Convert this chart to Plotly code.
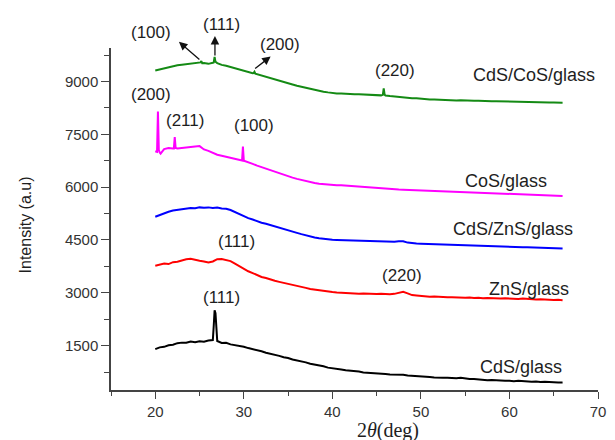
import plotly.graph_objects as go

# ---- data ----
GRID = [20.0, 20.5, 21.0, 21.5, 22.0, 22.5, 23.0, 23.5, 24.0, 24.5, 25.0, 25.5, 26.0, 26.5,
        27.0, 27.5, 28.0, 28.5, 29.0, 29.5, 30.0, 30.5, 31.0, 31.5, 32.0, 32.5, 33.0, 33.5,
        34.0, 34.5, 35.0, 35.5, 36.0, 36.5, 37.0, 37.5, 38.0, 38.5, 39.0, 39.5, 40.0, 40.5,
        41.0, 41.5, 42.0, 42.5, 43.0, 43.5, 44.0, 44.5, 45.0, 45.5, 46.0, 46.5, 47.0, 47.5,
        48.0, 48.5, 49.0, 49.5, 50.0, 50.5, 51.0, 51.5, 52.0, 52.5, 53.0, 53.5, 54.0, 54.5,
        55.0, 55.5, 56.0, 56.5, 57.0, 57.5, 58.0, 58.5, 59.0, 59.5, 60.0, 60.5, 61.0, 61.5,
        62.0, 62.5, 63.0, 63.5, 64.0, 64.5, 65.0, 65.5, 66.0]

CDS_GLASS = [1400, 1450, 1465, 1510, 1525, 1570, 1585, 1580, 1615, 1595, 1625, 1610, 1645, 1660,
             1630, 1575, 1580, 1535, 1515, 1480, 1465, 1430, 1405, 1370, 1340, 1300, 1275, 1235,
             1210, 1170, 1150, 1105, 1085, 1045, 1025, 985, 965, 930, 915, 875, 865, 835,
             825, 800, 795, 770, 765, 740, 735, 715, 715, 700, 695, 680, 685, 690,
             675, 650, 645, 625, 625, 610, 610, 595, 600, 585, 585, 570, 575, 585,
             565, 550, 550, 535, 535, 520, 525, 510, 515, 500, 505, 490, 500, 485,
             490, 475, 480, 465, 475, 460, 465, 450, 455]
CDS_GLASS_PEAK_X = [26.6, 26.7, 26.8, 26.9]
CDS_GLASS_PEAK_Y = [2050, 2500, 2420, 1850]

ZNS_GLASS = [3770, 3800, 3830, 3815, 3870, 3880, 3920, 3950, 3965, 3930, 3910, 3890, 3860, 3890,
             3955, 3960, 3935, 3900, 3830, 3750, 3670, 3610, 3560, 3500, 3450, 3420, 3375, 3340,
             3310, 3285, 3255, 3225, 3200, 3165, 3140, 3110, 3090, 3065, 3050, 3030, 3020, 3010,
             3000, 2995, 2985, 2990, 2975, 2980, 2970, 2975, 2965, 2970, 2955, 2960, 2970, 2995,
             3030, 2985, 2935, 2925, 2910, 2905, 2890, 2895, 2880, 2885, 2870, 2875, 2865, 2870,
             2860, 2865, 2850, 2860, 2845, 2855, 2845, 2850, 2835, 2845, 2835, 2840, 2825, 2835,
             2820, 2825, 2810, 2820, 2805, 2810, 2795, 2805, 2790]

CDS_ZNS_GLASS = [5160, 5210, 5250, 5300, 5335, 5350, 5380, 5390, 5410, 5400, 5425, 5415, 5425, 5410,
                 5420, 5395, 5385, 5350, 5290, 5230, 5170, 5120, 5080, 5030, 4990, 4960, 4920, 4885,
                 4850, 4815, 4780, 4740, 4700, 4665, 4630, 4600, 4570, 4550, 4530, 4520, 4505, 4500,
                 4495, 4490, 4485, 4480, 4470, 4475, 4460, 4465, 4455, 4460, 4450, 4455, 4450, 4460,
                 4465, 4425, 4405, 4400, 4395, 4390, 4385, 4385, 4380, 4375, 4370, 4375, 4365, 4360,
                 4360, 4350, 4350, 4345, 4340, 4335, 4330, 4325, 4320, 4315, 4310, 4305, 4300, 4295,
                 4295, 4290, 4285, 4280, 4280, 4275, 4270, 4265, 4260]

COS_GLASS = [7020, 6980, 7080, 7110, 7100, 7095, 7115, 7130, 7140, 7155, 7165, 7070, 7030, 6975,
             6920, 6890, 6860, 6835, 6800, 6770, 6745, 6710, 6660, 6610, 6565, 6520, 6480, 6430,
             6390, 6350, 6310, 6270, 6235, 6200, 6165, 6140, 6115, 6095, 6080, 6075, 6065, 6055,
             6050, 6040, 6030, 6020, 6005, 5995, 5985, 5975, 5965, 5955, 5950, 5940, 5940, 5930,
             5925, 5920, 5915, 5905, 5905, 5895, 5895, 5885, 5885, 5875, 5875, 5870, 5870, 5860,
             5865, 5855, 5860, 5850, 5845, 5835, 5835, 5825, 5820, 5810, 5810, 5800, 5800, 5790,
             5790, 5780, 5780, 5770, 5770, 5760, 5760, 5750, 5750]
COS_GLASS_PEAK_X = [20.2, 20.3, 20.4, 20.6, 22.1, 22.2, 22.3, 29.8, 29.9, 30.1]
COS_GLASS_PEAK_Y = [7000, 8150, 7050, 6950, 7100, 7420, 7110, 6755, 7150, 6740]

CDS_COS_GLASS = [9310, 9340, 9370, 9420, 9430, 9460, 9475, 9490, 9500, 9505, 9530, 9525, 9500, 9530,
                 9520, 9470, 9445, 9410, 9370, 9325, 9285, 9250, 9235, 9205, 9165, 9125, 9085, 9045,
                 9010, 8980, 8950, 8915, 8880, 8850, 8815, 8790, 8765, 8735, 8710, 8690, 8670, 8660,
                 8655, 8645, 8645, 8635, 8640, 8630, 8625, 8615, 8610, 8605, 8600, 8585, 8570, 8560,
                 8545, 8540, 8525, 8520, 8505, 8500, 8490, 8490, 8480, 8475, 8470, 8470, 8460, 8465,
                 8455, 8460, 8450, 8455, 8445, 8445, 8440, 8440, 8435, 8430, 8430, 8425, 8420, 8420,
                 8415, 8410, 8410, 8405, 8405, 8400, 8400, 8395, 8395]
CDS_COS_GLASS_PEAK_X = [25.1, 25.2, 25.3, 26.6, 26.7, 26.8, 31.1, 31.2, 31.3, 45.7, 45.8, 45.9]
CDS_COS_GLASS_PEAK_Y = [9540, 9580, 9520, 9540, 9700, 9560, 9240, 9275, 9220, 8620, 8800, 8625]

SERIES_NAMES = ["CdS/glass", "ZnS/glass", "CdS/ZnS/glass", "CoS/glass", "CdS/CoS/glass"]
# peak labels inside the plot (data coordinates)
HKL_LABELS = ["(220)", "(200)", "(211)", "(100)", "(111)", "(220)", "(111)"]
HKL_X = [47.1, 19.56, 23.33, 31.1, 29.2, 47.9, 27.44]
HKL_Y = [9304, 8622, 7898, 7756, 4460, 3494, 2855]
# peak labels above the plot (x in data, y as fraction of plot height)
TOP_LABELS = ["(100)", "(111)", "(200)"]
TOP_X = [19.56, 27.44, 34.1]
TOP_Y = [1.044, 1.069, 1.010]
# arrows: head position (x data, y fraction) and tail offset in pixels
ARROW_HEAD_X = [22.67, 26.74, 33.03]
ARROW_HEAD_Y = [1.018, 1.035, 0.975]
ARROW_TAIL_DX = [22, 0, -17]
ARROW_TAIL_DY = [19, 21, 13]
NAME_X = [61.3, 62.2, 60.4, 59.6, 62.8]
NAME_Y = [880, 3102, 4801, 6165, 9176]
X_TICKS = [20, 30, 40, 50, 60, 70]
Y_TICKS = [1500, 3000, 4500, 6000, 7500, 9000]


def merged(xs, ys, px=None, py=None):
    pts = list(zip(xs, ys))
    if px:
        pts += list(zip(px, py))
    pts.sort(key=lambda p: p[0])
    return [p[0] for p in pts], [p[1] for p in pts]


series = [
    (SERIES_NAMES[0], merged(GRID, CDS_GLASS, CDS_GLASS_PEAK_X, CDS_GLASS_PEAK_Y), "#000000"),
    (SERIES_NAMES[1], merged(GRID, ZNS_GLASS), "#ff0000"),
    (SERIES_NAMES[2], merged(GRID, CDS_ZNS_GLASS), "#0000ff"),
    (SERIES_NAMES[3], merged(GRID, COS_GLASS, COS_GLASS_PEAK_X, COS_GLASS_PEAK_Y), "#ff00ff"),
    (SERIES_NAMES[4], merged(GRID, CDS_COS_GLASS, CDS_COS_GLASS_PEAK_X, CDS_COS_GLASS_PEAK_Y), "#148a14"),
]

fig = go.Figure()
for name, (xs, ys), color in series:
    fig.add_trace(go.Scatter(x=xs, y=ys, mode="lines", name=name,
                             line=dict(color=color, width=2), showlegend=False))

FONT = "Liberation Sans, Arial, sans-serif"
TXT = "#1e1e1e"
ann = []
for t, x, y in zip(HKL_LABELS, HKL_X, HKL_Y):
    ann.append(dict(x=x, y=y, xref="x", yref="y", text=t, showarrow=False,
                    font=dict(family=FONT, size=17, color=TXT)))
for t, x, y in zip(TOP_LABELS, TOP_X, TOP_Y):
    ann.append(dict(x=x, y=y, xref="x", yref="paper", text=t, showarrow=False,
                    yanchor="middle", font=dict(family=FONT, size=17, color=TXT)))
for t, x, y in zip(SERIES_NAMES, NAME_X, NAME_Y):
    ann.append(dict(x=x, y=y, xref="x", yref="y", text=t, showarrow=False,
                    font=dict(family=FONT, size=18, color=TXT)))
for hx, hy, dx, dy in zip(ARROW_HEAD_X, ARROW_HEAD_Y, ARROW_TAIL_DX, ARROW_TAIL_DY):
    ann.append(dict(x=hx, y=hy, ax=dx, ay=dy, xref="x", yref="paper",
                    text="", showarrow=True, arrowhead=2, arrowsize=1.3, arrowwidth=1.3,
                    arrowcolor="#111111", standoff=0, startstandoff=0))
# axis titles
ann.append(dict(x=-0.176, y=0.482, xref="paper", yref="paper", text="Intensity (a.u)",
                textangle=-90, showarrow=False, xanchor="center", yanchor="middle",
                font=dict(family=FONT, size=16, color=TXT)))
ann.append(dict(x=0.568, y=-0.117, xref="paper", yref="paper",
                text="2<i>θ</i>(deg)", showarrow=False, xanchor="center", yanchor="middle",
                font=dict(family="Liberation Serif, Times New Roman, serif", size=20, color=TXT)))

fig.update_layout(
    width=607, height=432,
    margin=dict(l=103, r=9, t=40, b=50),
    paper_bgcolor="white", plot_bgcolor="white",
    annotations=ann,
    xaxis=dict(range=[15, 70], tickvals=X_TICKS, ticks="outside", ticklen=7, tickwidth=1.2,
               tickcolor="#444", showline=True, linecolor="#444", linewidth=1.5,
               showgrid=False, zeroline=False,
               tickfont=dict(family=FONT, size=15, color="#333"),
               minor=dict(dtick=5, tick0=0, ticks="outside", ticklen=4, tickcolor="#444", tickwidth=1.2)),
    yaxis=dict(range=[240, 9950], tickvals=Y_TICKS, ticks="outside", ticklen=8, tickwidth=1.2,
               tickcolor="#444", showline=True, linecolor="#444", linewidth=1.5,
               showgrid=False, zeroline=False,
               tickfont=dict(family=FONT, size=15, color="#333"),
               minor=dict(dtick=750, tick0=0, ticks="outside", ticklen=5, tickcolor="#444", tickwidth=1.2)),
)

fig.write_html("out.html")
